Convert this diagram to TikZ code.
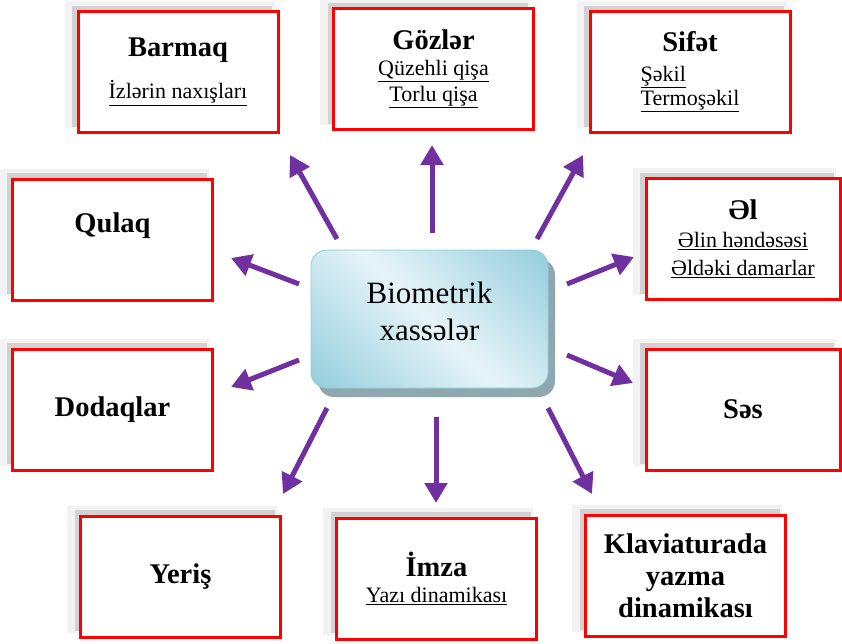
\documentclass[tikz,border=0pt]{standalone}
\usepackage{fontspec}
\setmainfont{Liberation Serif}
\usetikzlibrary{arrows.meta,shadows}

\definecolor{arrowpurple}{HTML}{7030A0}
\definecolor{hubdark}{RGB}{143,203,219}
\definecolor{hublight}{RGB}{230,244,248}
\definecolor{hubshadow}{RGB}{143,168,175}

\newcommand{\ttl}{\fontsize{28.5}{32}\bfseries}
\newcommand{\subtxt}[1]{\underline{#1}}

\begin{document}
\begin{tikzpicture}[x=1pt, y=-1pt,
	box/.style={draw=red, line width=3pt, fill=white, minimum width=200pt, minimum height=121pt,
		inner sep=0pt, align=center, font=\fontsize{22}{26}\selectfont,
		general shadow={shadow xshift=-8pt, shadow yshift=7pt, shadow scale=1.05, fill=gray!10},
		general shadow={shadow xshift=-6pt, shadow yshift=6pt, fill=gray!35}},
	arr/.style={-{Triangle[length=20pt, width=22pt]}, line width=5pt, arrowpurple}]
	\useasboundingbox (0,0) rectangle (842,643);

	% centre
	\node (hub) at (429.5,319) [rounded corners=16pt, minimum width=237pt, minimum height=138pt,
		draw=hubdark, line width=0.8pt, fill=hubdark,
		path picture={\shade[top color=hubdark, bottom color=hubdark, middle color=hublight, shading angle=-45]
			([shift={(-140pt,-140pt)}]path picture bounding box.center) rectangle
			([shift={(140pt,140pt)}]path picture bounding box.center);},
		drop shadow={shadow xshift=7pt, shadow yshift=-9pt, fill=hubshadow, opacity=1},
		align=center, font=\fontsize{31}{37}\selectfont] {Biometrik\\xassələr\rule[-16pt]{0pt}{16pt}};

	% top row
	\node (barmaq) at (178,72) [box] {{\ttl Barmaq}\\[16pt]\subtxt{İzlərin naxışları}};
	\node (gozler) at (433.5,69) [box] {{\ttl Gözlər}\\\subtxt{Qüzehli qişa}\\\subtxt{Torlu qişa}};
	\node (sifet) at (690,72) [box] {{\ttl Sifət}\\[4pt]\begin{tabular}[t]{@{}l@{}}\subtxt{Şəkil}\\[-2pt]\subtxt{Termoşəkil}\end{tabular}};

	% sides
	\node (qulaq) at (112.5,239.5) [box] {\raisebox{14pt}[\height][\depth]{\ttl Qulaq}};
	\node (el) at (743,239) [box, minimum width=194pt] {{\ttl Əl}\\[2pt]\subtxt{Əlin həndəsəsi}\\[2pt]\subtxt{Əldəki damarlar}};
	\node (dodaq) at (112.5,409.5) [box] {\ttl Dodaqlar};
	\node (ses) at (743,409.5) [box, minimum width=194pt] {\ttl Səs};

	% bottom row
	\node (yeris) at (180.5,576.5) [box] {\ttl Yeriş};
	\node (imza) at (436.5,578.5) [box] {{\ttl İmza}\\\subtxt{Yazı dinamikası}};
	\node (klav) at (685.5,575.5) [box, font=\ttl] {Klaviaturada\\yazma\\dinamikası};

	% arrows
	\foreach \i/\tx/\ty/\hx/\hy in {1/337/239/290/155, 2/432/233/432/145, 3/537/239/583/155,
		4/299/284/231/258, 5/567/284/634/257, 6/299/360/231/387, 7/567/355/633/383,
		8/327/408/283/494, 9/436/417/436/503, 10/548/408/592/494} {
		\coordinate (tail\i) at (\tx,\ty);
		\coordinate (tip\i) at (\hx,\hy);
		\draw[arr] (tail\i) -- (tip\i);
	}
\end{tikzpicture}
\end{document}
